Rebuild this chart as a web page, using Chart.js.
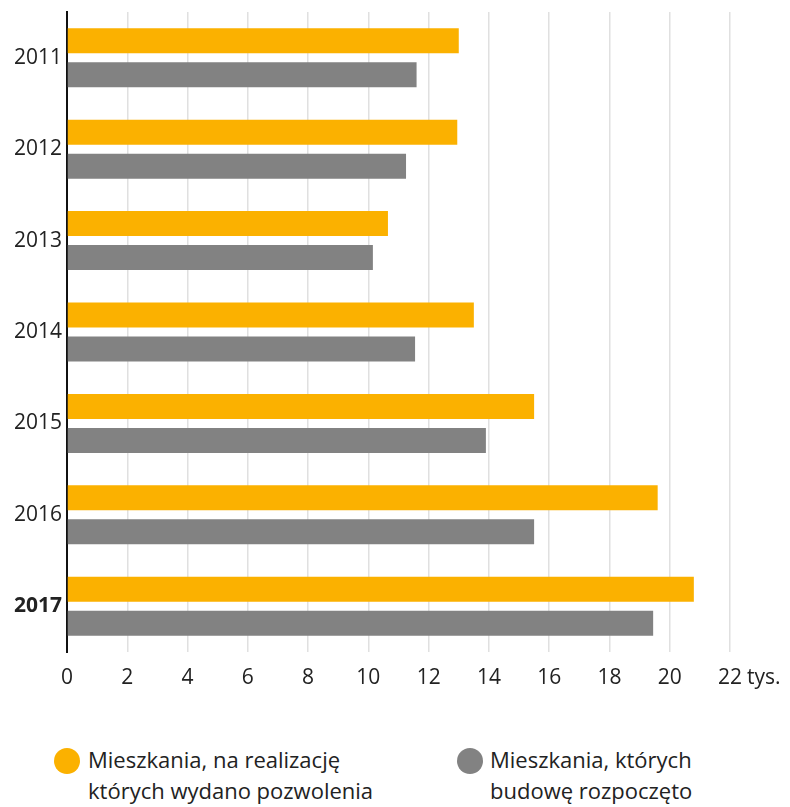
<!DOCTYPE html>
<html>
<head>
<meta charset="utf-8">
<script src="https://cdn.jsdelivr.net/npm/chart.js@4.4.1/dist/chart.umd.min.js"></script>
<style>
  html, body { margin: 0; padding: 0; background: #fff; }
  body { width: 790px; height: 807px; position: relative; overflow: hidden; font-family: "Open Sans", sans-serif; color: #222; }
  #wrap { position: absolute; left: 0; top: 0; width: 790px; height: 700px; }
  .leg { position: absolute; top: 744px; font-size: 22px; line-height: 31px; color: #222; white-space: nowrap; }
  .dot { position: absolute; width: 26px; height: 26px; border-radius: 50%; top: 748px; }
</style>
</head>
<body>
<div id="wrap"><canvas id="c" width="790" height="700"></canvas></div>
<div class="dot" style="left:54px;background:#FBB100"></div>
<div class="leg" style="left:88px">Mieszkania, na realizację<br>których wydano pozwolenia</div>
<div class="dot" style="left:457px;background:#828282"></div>
<div class="leg" style="left:490px">Mieszkania, których<br>budowę rozpoczęto</div>
<script>
const categories = ["2011", "2012", "2013", "2014", "2015", "2016", "2017"];
const permits = [13.0, 12.95, 10.65, 13.5, 15.5, 19.6, 20.8];
const started = [11.6, 11.25, 10.15, 11.55, 13.9, 15.5, 19.45];
const xTicks = [0, 2, 4, 6, 8, 10, 12, 14, 16, 18, 20, 22];
const unitLabel = "tys.";

const FONT = '"Open Sans", sans-serif';
const TICK_SIZE = 21;
const X_PAD = 13;

const unitPlugin = {
  id: 'unit',
  afterDraw(chart) {
    const x = chart.scales.x;
    const ctx = chart.ctx;
    const last = xTicks[xTicks.length - 1];
    const px = x.getPixelForValue(last);
    ctx.save();
    ctx.font = TICK_SIZE + 'px ' + FONT;
    const w = ctx.measureText(String(last)).width;
    ctx.fillStyle = '#222';
    ctx.textBaseline = 'top';
    ctx.textAlign = 'left';
    // match Chart.js tick label box (line height 1.2)
    ctx.fillText(unitLabel, px + w / 2 + 5, chart.chartArea.bottom + X_PAD + TICK_SIZE * 0.1);
    ctx.restore();
  }
};

new Chart(document.getElementById('c'), {
  type: 'bar',
  data: {
    labels: categories,
    datasets: [
      { label: 'Mieszkania, na realizację których wydano pozwolenia', data: permits, backgroundColor: '#FBB100', categoryPercentage: 0.744, barPercentage: 0.735 },
      { label: 'Mieszkania, których budowę rozpoczęto', data: started, backgroundColor: '#828282', categoryPercentage: 0.744, barPercentage: 0.735 }
    ]
  },
  options: {
    indexAxis: 'y',
    responsive: false,
    animation: false,
    layout: { padding: { top: 12, right: 60, left: 0, bottom: 0 } },
    plugins: { legend: { display: false }, tooltip: { enabled: false } },
    scales: {
      x: {
        min: 0, max: 22,
        afterBuildTicks: s => { s.ticks = xTicks.map(v => ({ value: v })); },
        afterFit: s => { s.height = 48; },
        grid: { color: '#e0e0e0', lineWidth: 1.5, drawTicks: false },
        border: { display: false },
        ticks: { padding: X_PAD, color: '#222', font: { family: FONT, size: TICK_SIZE }, maxRotation: 0, autoSkip: false }
      },
      y: {
        afterFit: s => { s.width = 67; },
        grid: { display: false },
        border: { display: true, color: '#111', width: 2 },
        ticks: {
          padding: -3, color: '#222', autoSkip: false,
          font: ctx => ({ family: FONT, size: TICK_SIZE, weight: ctx.index === 6 ? 'bold' : 'normal' })
        }
      }
    }
  },
  plugins: [unitPlugin]
});
</script>
</body>
</html>
